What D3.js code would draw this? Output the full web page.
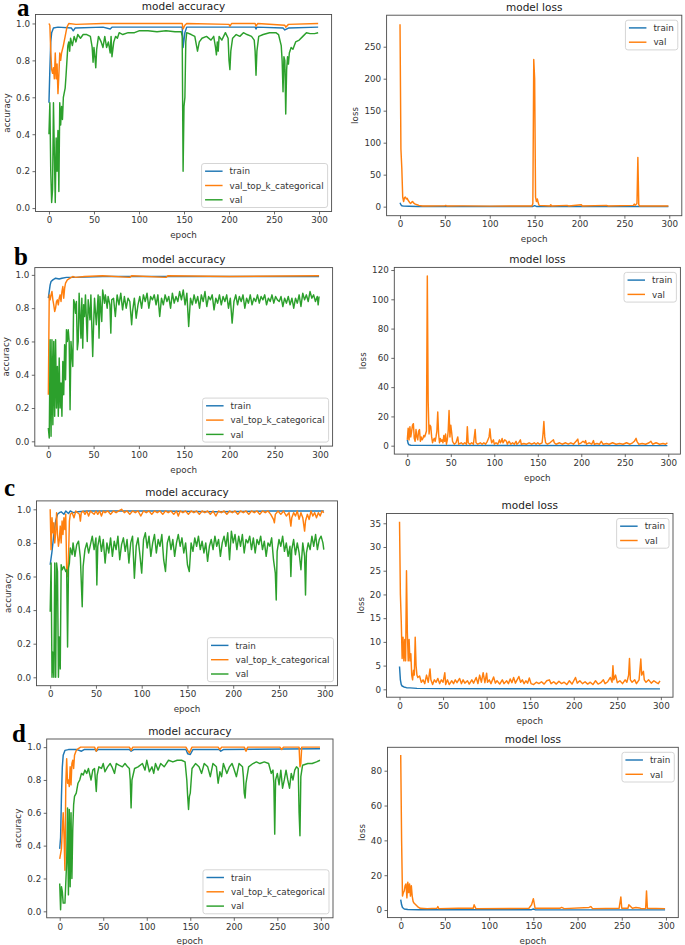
<!DOCTYPE html>
<html><head><meta charset="utf-8">
<script src="https://cdn.jsdelivr.net/npm/d3@7"></script>
<style>body{margin:0;background:#fff} svg{display:block}</style>
</head><body><svg id="chart" width="685" height="945"></svg>
<script>
// ---------- tick labels ----------
const epochTicks=[0,50,100,150,200,250,300];
const accTicks=[0.0,0.2,0.4,0.6,0.8,1.0];
const lossTicksA=[0,50,100,150,200,250];
const lossTicksB=[0,20,40,60,80,100,120];
const lossTicksC=[0,5,10,15,20,25,30,35];
const lossTicksD=[0,20,40,60,80];
const accLegend=["train","val_top_k_categorical","val"];
const lossLegend=["train","val"];

// ---------- panel a ----------
const aAccTrain=[[0,0.57],[1,0.75],[2,0.9],[3,0.95],[5,0.975],[10,0.98],[25,0.975],[27,0.96],[29,0.975],[60,0.98],[68,0.97],[70,0.98],[100,0.98],[148,0.98],[149,0.87],[151,0.95],[153,0.98],[200,0.98],[229,0.98],[230,0.97],[231,0.98],[260,0.975],[262,0.965],[266,0.975],[299,0.98]];
const aAccTopK=[[0,1.0],[1,0.99],[2,0.85],[3,0.75],[4,0.73],[5,0.76],[6,0.7],[7,0.84],[8,0.7],[9,0.78],[10,0.62],[11,0.72],[12,0.84],[13,0.8],[14,0.84],[16,0.88],[18,0.93],[20,0.98],[22,1.0],[30,0.995],[60,1.0],[100,1.0],[148,1.0],[149,0.97],[151,0.99],[153,1.0],[200,0.995],[201,0.985],[203,1.0],[229,1.0],[230,0.985],[232,1.0],[262,0.99],[263,0.98],[266,0.995],[299,1.0]];
const aAccVal=[[0,0.4],[1,0.57],[2,0.2],[3,0.03],[4,0.1],[5,0.57],[6,0.3],[7,0.03],[8,0.38],[9,0.2],[10,0.42],[11,0.09],[12,0.57],[13,0.45],[14,0.55],[15,0.48],[16,0.6],[18,0.65],[19,0.72],[21,0.88],[22,0.9],[23,0.85],[24,0.92],[26,0.88],[28,0.93],[30,0.9],[32,0.94],[35,0.92],[38,0.94],[42,0.94],[46,0.93],[48,0.87],[49,0.79],[50,0.87],[51,0.82],[52,0.76],[53,0.86],[55,0.93],[58,0.9],[60,0.87],[62,0.93],[64,0.87],[66,0.9],[68,0.84],[69,0.93],[70,0.82],[72,0.9],[74,0.93],[76,0.92],[78,0.95],[82,0.94],[88,0.95],[95,0.95],[100,0.96],[110,0.96],[120,0.955],[130,0.96],[140,0.955],[147,0.955],[148,0.93],[149,0.2],[150,0.55],[151,0.6],[152,0.9],[153,0.95],[158,0.94],[162,0.93],[165,0.85],[167,0.9],[170,0.92],[175,0.93],[180,0.91],[183,0.93],[185,0.87],[186,0.83],[187,0.9],[188,0.85],[189,0.93],[192,0.91],[196,0.95],[199,0.92],[200,0.8],[201,0.75],[202,0.85],[204,0.92],[208,0.94],[212,0.93],[216,0.95],[220,0.94],[225,0.93],[228,0.91],[229,0.85],[230,0.72],[231,0.85],[233,0.93],[238,0.94],[245,0.95],[252,0.95],[255,0.94],[258,0.88],[259,0.8],[260,0.63],[261,0.82],[262,0.8],[263,0.51],[264,0.75],[265,0.82],[266,0.78],[267,0.84],[269,0.87],[271,0.86],[274,0.9],[278,0.91],[282,0.93],[286,0.95],[290,0.945],[295,0.945],[299,0.95]];
const aLossTrain=[[0,6],[1,3],[2,1.5],[4,0.8],[10,0.5],[20,0.3],[148,0.3],[150,1.5],[152,0.3],[299,0.1]];
const aLossVal=[[0,285],[1,90],[2,60],[3,15],[4,8],[5,14],[6,15],[7,12],[8,13],[9,10],[10,8],[11,6],[12,5],[13,7],[14,8],[15,6],[17,4],[19,3],[21,2],[25,1],[30,1],[50,1.5],[51,2],[52,1],[70,1.2],[100,0.8],[147,1],[148,5],[149,230],[150,200],[151,15],[152,8],[153,12],[154,6],[155,2],[167,1],[168,3],[169,1],[186,2],[188,1],[202,3],[203,1],[230,2],[232,1],[260,2],[261,4],[262,2],[264,5],[265,77],[266,3],[267,1],[299,1]];

// ---------- panel b ----------
const bAccTrain=[[0,0.86],[1,0.9],[2,0.94],[3,0.96],[5,0.97],[8,0.98],[12,0.975],[15,0.98],[20,0.985],[30,0.985],[60,0.99],[299,0.99]];
const bAccTopK=[[0,0.28],[1,0.88],[2,0.85],[3,0.88],[4,0.9],[5,0.85],[6,0.82],[7,0.78],[8,0.8],[9,0.84],[10,0.85],[11,0.82],[12,0.86],[13,0.88],[14,0.84],[15,0.9],[16,0.93],[17,0.86],[18,0.92],[19,0.95],[21,0.97],[24,0.98],[27,0.99],[30,0.985],[40,0.99],[60,0.995],[90,0.985],[92,0.995],[130,0.985],[132,0.995],[200,0.99],[299,0.995]];
const bAccVal=[[0,0.08],[1,0.02],[2,0.61],[3,0.03],[4,0.61],[5,0.1],[6,0.6],[7,0.15],[8,0.61],[9,0.2],[10,0.45],[11,0.15],[12,0.5],[13,0.2],[14,0.35],[15,0.15],[16,0.48],[17,0.28],[18,0.58],[19,0.37],[20,0.67],[21,0.6],[22,0.67],[23,0.6],[24,0.19],[25,0.6],[26,0.52],[27,0.45],[28,0.85],[29,0.83],[30,0.77],[31,0.84],[32,0.55],[33,0.6],[34,0.89],[36,0.62],[37,0.86],[38,0.56],[39,0.82],[40,0.75],[41,0.88],[43,0.6],[44,0.85],[46,0.73],[47,0.88],[49,0.51],[50,0.7],[51,0.86],[53,0.7],[55,0.88],[56,0.62],[57,0.87],[59,0.72],[60,0.91],[62,0.83],[63,0.88],[65,0.8],[66,0.87],[68,0.82],[69,0.65],[70,0.85],[72,0.86],[74,0.75],[76,0.88],[78,0.82],[80,0.89],[82,0.79],[84,0.87],[86,0.8],[88,0.86],[90,0.84],[92,0.7],[93,0.78],[95,0.86],[97,0.74],[99,0.82],[101,0.87],[103,0.8],[105,0.88],[107,0.84],[109,0.89],[111,0.8],[113,0.87],[115,0.85],[117,0.88],[119,0.82],[121,0.88],[123,0.75],[125,0.86],[127,0.82],[129,0.88],[131,0.84],[133,0.87],[135,0.8],[137,0.89],[139,0.83],[141,0.87],[143,0.84],[145,0.9],[147,0.85],[149,0.91],[151,0.82],[153,0.89],[155,0.69],[157,0.86],[159,0.82],[161,0.88],[163,0.83],[165,0.87],[167,0.8],[169,0.88],[171,0.84],[173,0.9],[175,0.81],[177,0.87],[179,0.85],[181,0.88],[183,0.79],[185,0.86],[187,0.83],[189,0.88],[191,0.82],[193,0.87],[195,0.84],[197,0.88],[199,0.8],[201,0.86],[203,0.71],[205,0.84],[207,0.88],[209,0.82],[211,0.87],[213,0.84],[215,0.88],[217,0.8],[219,0.86],[221,0.83],[223,0.88],[225,0.82],[227,0.86],[229,0.84],[231,0.88],[233,0.83],[235,0.87],[237,0.85],[239,0.88],[241,0.82],[243,0.86],[245,0.84],[247,0.88],[249,0.83],[251,0.87],[253,0.85],[255,0.84],[257,0.87],[259,0.81],[261,0.86],[263,0.83],[265,0.87],[267,0.82],[269,0.86],[271,0.8],[273,0.86],[275,0.83],[277,0.88],[279,0.81],[281,0.89],[283,0.85],[285,0.88],[287,0.84],[289,0.9],[291,0.86],[293,0.88],[295,0.84],[297,0.87],[298,0.82],[299,0.87]];
const bLossTrain=[[0,4],[1,1.5],[2,0.6],[4,0.3],[10,0.2],[299,0.05]];
const bLossVal=[[0,4],[1,12],[2,4],[3,13],[4,6],[5,10],[6,14],[7,15],[8,5],[9,3],[10,11],[11,6],[12,4],[13,10],[14,11],[15,3],[16,6],[17,4],[18,5],[19,7],[20,6],[21,8],[22,10],[23,116],[24,30],[25,8],[26,14],[27,13],[28,6],[29,2],[30,4],[31,5],[32,3],[33,6],[34,10],[35,23],[36,8],[37,2],[38,5],[39,3],[40,4],[41,2],[42,7],[43,3],[44,8],[45,1],[46,4],[47,10],[48,24],[49,6],[50,14],[51,9],[52,3],[53,2],[54,1],[56,2],[58,6],[59,1],[62,2],[64,1],[66,2],[68,1],[69,13],[70,2],[72,1],[74,2],[76,1],[78,11],[79,2],[81,1],[84,2],[86,1],[88,2],[90,1],[92,3],[94,6],[95,11.5],[96,5],[97,2],[99,4],[100,1],[102,2],[104,1],[106,4],[107,2],[108,3],[109,5],[110,2],[112,4],[114,3],[115,1],[117,3],[119,1],[121,2],[123,1],[125,3],[126,1],[128,2],[130,4],[131,1],[134,1.5],[137,1],[140,2],[143,1],[146,2],[148,1],[150,2],[152,1],[155,2],[156,8],[157,16.5],[158,6],[159,2],[161,1],[164,2],[166,3],[168,4],[169,2],[171,1],[175,2],[178,1],[182,2],[185,1],[188,2],[191,1],[194,3],[196,4.5],[197,1],[200,2],[202,3],[204,2],[205,3.5],[206,1],[209,2],[212,1],[214,3.5],[215,1],[218,1.5],[221,1],[223,3],[225,1],[229,1.5],[232,1],[236,2],[240,1],[244,1.5],[248,1],[252,2],[256,1],[259,2],[261,3],[263,5],[264,3],[266,1],[270,1.5],[274,1],[278,2],[280,3],[282,1],[286,2],[290,1],[294,1.5],[297,1],[299,2]];

// ---------- panel c ----------
const cAccTrain=[[0,0.67],[2,0.75],[4,0.85],[6,0.93],[8,0.97],[10,0.98],[12,0.985],[15,0.97],[17,0.99],[20,0.975],[22,0.99],[25,0.98],[30,0.985],[40,0.99],[120,0.99],[180,0.985],[240,0.99],[299,0.99]];
const cAccTopK=[[0,1.0],[1,0.76],[2,0.95],[3,0.86],[4,0.92],[5,0.8],[6,0.86],[7,0.98],[8,0.85],[9,0.78],[10,0.82],[11,0.9],[12,0.8],[13,0.93],[14,0.85],[15,0.95],[16,0.88],[17,0.97],[18,0.65],[19,0.6],[20,0.7],[21,0.93],[22,0.97],[24,0.98],[26,0.95],[28,0.99],[30,0.98],[32,0.97],[33,0.93],[34,0.98],[36,0.99],[38,0.97],[40,0.99],[42,0.96],[44,0.99],[46,0.98],[48,0.97],[50,0.99],[52,0.97],[54,0.99],[56,0.96],[58,0.99],[60,0.98],[63,0.99],[66,0.97],[69,0.99],[72,0.98],[75,0.99],[78,1.0],[81,0.98],[84,0.99],[87,0.97],[90,0.99],[93,0.98],[96,0.99],[99,0.96],[102,0.99],[105,0.98],[108,0.99],[111,0.97],[114,0.99],[117,0.98],[120,0.99],[123,0.97],[126,0.99],[129,0.98],[132,0.99],[135,0.97],[138,0.99],[140,0.96],[142,0.99],[145,0.98],[148,0.99],[151,0.97],[154,0.99],[157,0.98],[160,0.99],[163,0.97],[166,0.99],[169,0.98],[172,0.99],[175,0.97],[178,0.99],[181,0.96],[184,0.99],[187,0.98],[190,0.99],[193,0.97],[196,0.99],[199,0.98],[202,0.99],[205,0.97],[208,0.99],[211,0.98],[214,0.99],[217,0.97],[220,0.99],[223,0.98],[226,0.99],[229,0.97],[232,0.99],[235,0.98],[238,0.99],[241,0.97],[244,0.94],[245,0.92],[246,0.97],[249,0.99],[252,0.97],[255,0.99],[258,0.96],[261,0.98],[263,0.9],[264,0.95],[266,0.98],[268,0.96],[270,0.99],[272,0.94],[274,0.98],[276,0.95],[278,0.87],[279,0.93],[281,0.97],[283,0.94],[285,0.99],[287,0.96],[289,0.98],[291,0.95],[293,0.98],[295,0.96],[297,0.99],[299,0.98]];
const cAccVal=[[0,0.39],[1,0.68],[2,0.0],[3,0.15],[4,0.0],[5,0.68],[6,0.0],[7,0.68],[8,0.63],[9,0.0],[10,0.24],[11,0.05],[12,0.67],[13,0.64],[15,0.66],[17,0.63],[18,0.64],[19,0.18],[20,0.65],[21,0.68],[22,0.77],[24,0.73],[25,0.8],[27,0.72],[29,0.79],[31,0.81],[33,0.71],[35,0.42],[36,0.66],[38,0.76],[40,0.8],[42,0.74],[44,0.79],[46,0.84],[48,0.76],[50,0.83],[51,0.55],[52,0.78],[54,0.84],[56,0.75],[58,0.82],[60,0.68],[62,0.8],[64,0.74],[66,0.83],[68,0.72],[70,0.81],[72,0.76],[74,0.84],[76,0.7],[78,0.79],[80,0.83],[82,0.75],[84,0.82],[86,0.68],[88,0.8],[90,0.84],[92,0.59],[94,0.78],[96,0.83],[98,0.73],[100,0.62],[102,0.82],[104,0.86],[106,0.77],[108,0.84],[110,0.72],[112,0.8],[114,0.85],[116,0.74],[118,0.82],[120,0.78],[122,0.85],[124,0.7],[126,0.63],[128,0.8],[130,0.84],[132,0.76],[134,0.82],[136,0.72],[138,0.8],[140,0.85],[142,0.78],[144,0.83],[146,0.74],[148,0.8],[150,0.67],[152,0.63],[154,0.8],[156,0.75],[158,0.83],[160,0.78],[162,0.84],[164,0.76],[166,0.81],[168,0.74],[170,0.8],[172,0.69],[174,0.78],[176,0.82],[178,0.76],[180,0.84],[182,0.78],[184,0.82],[186,0.72],[188,0.8],[190,0.84],[192,0.78],[194,0.86],[196,0.7],[198,0.87],[200,0.8],[202,0.85],[204,0.76],[206,0.84],[208,0.78],[210,0.85],[212,0.74],[214,0.82],[216,0.8],[218,0.84],[220,0.76],[222,0.83],[224,0.74],[226,0.82],[228,0.79],[230,0.84],[232,0.76],[234,0.81],[236,0.72],[238,0.8],[240,0.78],[242,0.83],[244,0.7],[246,0.62],[247,0.46],[248,0.75],[250,0.82],[252,0.78],[254,0.84],[256,0.75],[258,0.8],[260,0.72],[262,0.78],[263,0.6],[264,0.76],[266,0.82],[268,0.73],[270,0.8],[272,0.74],[274,0.64],[276,0.8],[278,0.72],[279,0.49],[280,0.74],[282,0.8],[284,0.76],[286,0.84],[288,0.78],[290,0.85],[292,0.76],[294,0.82],[296,0.84],[298,0.8],[299,0.76]];
const cLossTrain=[[0,4.8],[1,2],[2,1],[3,0.7],[5,0.5],[8,0.35],[12,0.3],[20,0.2],[50,0.15],[299,0.1]];
const cLossVal=[[0,35.3],[1,20],[2,14.3],[3,6.5],[4,11],[5,6],[6,10.5],[7,6],[8,25],[9,12],[10,6],[11,10.5],[12,6],[13,7.5],[14,3],[15,2],[16,4],[17,3],[18,11],[19,5],[20,3],[21,2.5],[23,2.8],[25,1.5],[27,2],[29,1.2],[31,3],[33,1.5],[35,4.3],[36,2],[38,1],[40,2],[42,1.5],[44,2.3],[46,1.2],[48,2],[50,1.5],[52,3.5],[53,1],[55,2],[57,1],[60,1.8],[62,1.2],[64,2],[66,1.4],[69,2.3],[71,1.2],[73,2],[75,1.3],[78,1.8],[80,1.1],[83,2],[85,1.3],[88,2.5],[90,1.2],[92,3],[94,1.5],[96,3.5],[98,1.4],[100,3.4],[101,1.5],[103,2],[105,1.2],[108,2.6],[110,1.3],[112,1.8],[115,1.1],[118,2],[120,1.2],[123,1.8],[125,1.2],[127,2.2],[129,1.4],[131,2.5],[133,1.3],[135,2],[137,2.7],[139,1.5],[141,2],[143,1.2],[145,1.8],[147,1.3],[149,2.4],[151,1.2],[154,1],[157,1.5],[160,1.2],[163,1.6],[166,1.1],[169,1.8],[172,2],[174,1.2],[177,1.6],[180,1.1],[183,1.7],[186,1.2],[189,1.5],[192,1],[195,1.8],[198,1.1],[202,2.5],[204,1.3],[207,1.8],[210,1.2],[213,1.6],[216,1.1],[219,1.5],[222,1],[225,1.8],[228,1.1],[231,1.4],[234,2],[236,1.2],[239,1.6],[242,2.5],[244,1.5],[245,5],[246,2],[248,3],[250,1.4],[253,1.8],[256,1.2],[259,2],[261,1.5],[263,3],[264,6.5],[265,2],[267,1.5],[270,2],[272,1.2],[275,2],[277,6.4],[278,3],[280,3.8],[281,2],[283,1.5],[286,2],[289,1.3],[292,1.8],[295,1.4],[297,1.2],[299,1.8]];

// ---------- panel d ----------
const dAccTrain=[[0,0.38],[1,0.45],[2,0.7],[3,0.88],[4,0.95],[6,0.98],[10,0.985],[20,0.985],[25,0.975],[28,0.985],[41,0.985],[42,0.975],[44,0.985],[80,0.985],[82,0.975],[85,0.985],[145,0.985],[147,0.96],[150,0.955],[153,0.985],[183,0.985],[185,0.975],[188,0.985],[299,0.99]];
const dAccTopK=[[0,0.32],[1,0.35],[2,0.38],[3,0.5],[4,0.6],[5,0.45],[6,0.25],[7,0.78],[8,0.93],[9,0.78],[10,0.8],[11,0.76],[12,0.88],[13,0.77],[14,0.9],[15,0.92],[16,0.87],[17,0.95],[19,0.98],[21,0.99],[24,1.0],[40,1.0],[42,0.975],[44,1.0],[80,1.0],[82,0.98],[84,1.0],[145,1.0],[147,0.98],[149,0.965],[152,1.0],[182,1.0],[184,0.985],[186,1.0],[212,1.0],[214,0.975],[216,1.0],[253,1.0],[255,0.985],[257,1.0],[275,1.0],[276,0.88],[277,0.9],[278,1.0],[299,1.0]];
const dAccVal=[[0,0.17],[1,0.01],[2,0.15],[3,0.12],[4,0.05],[6,0.05],[8,0.3],[9,0.63],[10,0.1],[11,0.62],[12,0.15],[13,0.6],[14,0.2],[15,0.5],[16,0.65],[17,0.7],[19,0.72],[21,0.78],[23,0.8],[25,0.84],[27,0.83],[29,0.86],[31,0.84],[33,0.87],[36,0.8],[38,0.86],[40,0.87],[42,0.73],[43,0.83],[45,0.88],[48,0.87],[50,0.9],[52,0.85],[55,0.88],[58,0.9],[60,0.88],[63,0.84],[65,0.9],[68,0.89],[72,0.88],[75,0.9],[78,0.88],[80,0.87],[81,0.8],[82,0.63],[83,0.8],[86,0.87],[90,0.88],[95,0.9],[98,0.86],[100,0.92],[103,0.85],[106,0.88],[108,0.84],[110,0.9],[113,0.86],[116,0.9],[120,0.88],[125,0.92],[130,0.91],[135,0.92],[140,0.92],[144,0.91],[146,0.8],[147,0.7],[148,0.62],[149,0.7],[150,0.72],[152,0.87],[156,0.9],[160,0.88],[163,0.84],[166,0.9],[170,0.88],[173,0.82],[176,0.9],[180,0.88],[182,0.78],[184,0.85],[186,0.82],[188,0.9],[192,0.84],[195,0.88],[198,0.9],[200,0.87],[203,0.82],[206,0.9],[210,0.88],[211,0.82],[212,0.72],[213,0.69],[214,0.78],[217,0.88],[222,0.9],[226,0.91],[230,0.9],[235,0.91],[240,0.9],[243,0.84],[245,0.86],[246,0.78],[247,0.47],[248,0.8],[250,0.84],[252,0.77],[254,0.86],[256,0.75],[258,0.8],[260,0.86],[262,0.8],[264,0.75],[266,0.84],[268,0.8],[270,0.86],[272,0.88],[274,0.87],[275,0.6],[276,0.46],[277,0.82],[279,0.89],[285,0.9],[290,0.9],[295,0.91],[299,0.92]];
const dLossTrain=[[0,6],[1,3],[2,1.5],[4,0.6],[8,0.3],[20,0.2],[148,0.2],[150,0.6],[152,0.2],[299,0.1]];
const dLossVal=[[0,89],[1,40],[2,8],[3,10],[4,11],[5,14],[6,15],[7,7],[8,16],[9,10],[10,15],[11,8],[12,14],[13,8],[14,5],[15,4],[17,3],[19,2],[22,1],[30,0.8],[41,1],[42,2],[43,0.8],[65,1],[82,1],[83,3],[85,0.8],[145,1],[148,3],[150,6.5],[152,1],[180,1],[182,1.5],[185,0.8],[213,1.5],[215,2],[217,0.8],[247,1],[249,7.5],[250,1],[257,1],[258,3],[260,2],[262,1],[266,1.5],[270,1.2],[272,0.8],[277,0.8],[278,11],[279,1],[299,0.8]];

// ---------- drawing ----------
const COLORS=["#1f77b4","#ff7f0e","#2ca02c"];
const FONT="DejaVu Sans";
const svg=d3.select("#chart");

const panels=[
 {box:[35.5,14.5,331.6,211.5],kind:"acc",series:[aAccTrain,aAccTopK,aAccVal],yTicks:accTicks,letter:["a",17,16]},
 {box:[386.6,15.2,681.8,215.7],kind:"loss",series:[aLossTrain,aLossVal],yTicks:lossTicksA},
 {box:[34.8,267.6,332.6,446.1],kind:"acc",series:[bAccTrain,bAccTopK,bAccVal],yTicks:accTicks,letter:["b",14,265]},
 {box:[394.3,267.4,680.4,454.1],kind:"loss",series:[bLossTrain,bLossVal],yTicks:lossTicksB},
 {box:[36.5,500.9,337.5,685.7],kind:"acc",series:[cAccTrain,cAccTopK,cAccVal],yTicks:accTicks,letter:["c",4,496]},
 {box:[386.5,513.5,673,697.2],kind:"loss",series:[cLossTrain,cLossVal],yTicks:lossTicksC},
 {box:[46.7,739,333,917.8],kind:"acc",series:[dAccTrain,dAccTopK,dAccVal],yTicks:accTicks,letter:["d",12,742]},
 {box:[387.5,747.3,678.3,917.6],kind:"loss",series:[dLossTrain,dLossVal],yTicks:lossTicksD}
];

panels.forEach((p,pi)=>{
  const [L,T,R,B]=p.box;
  const all=p.series.flat();
  const xe=d3.extent(all,d=>d[0]), ye=d3.extent(all,d=>d[1]);
  const xm=(xe[1]-xe[0])*0.05, ym=(ye[1]-ye[0])*0.05;
  const x=d3.scaleLinear().domain([xe[0]-xm,xe[1]+xm]).range([L,R]);
  const y=d3.scaleLinear().domain([ye[0]-ym,ye[1]+ym]).range([B,T]);
  const g=svg.append("g");
  const cid="clip"+pi;
  g.append("clipPath").attr("id",cid).append("rect").attr("x",L).attr("y",T).attr("width",R-L).attr("height",B-T);
  const line=d3.line().x(d=>x(d[0])).y(d=>y(d[1]));
  const lg=g.append("g").attr("clip-path",`url(#${cid})`);
  p.series.forEach((s,i)=>{
    lg.append("path").datum(s).attr("d",line).attr("fill","none")
      .attr("stroke",COLORS[i]).attr("stroke-width",1.45).attr("stroke-linejoin","round");
  });
  // axes
  const fmt=p.kind==="acc"?d3.format(".1f"):d3.format("d");
  const xa=g.append("g").attr("transform",`translate(0,${B})`)
    .call(d3.axisBottom(x).tickValues(epochTicks).tickSize(3).tickPadding(2.5));
  const ya=g.append("g").attr("transform",`translate(${L},0)`)
    .call(d3.axisLeft(y).tickValues(p.yTicks).tickFormat(fmt).tickSize(3).tickPadding(2.5));
  [xa,ya].forEach(a=>{
    a.select(".domain").remove();
    a.selectAll("line").attr("stroke","#444").attr("stroke-width",0.8);
    a.selectAll("text").attr("font-family",FONT).attr("font-size",8.75).attr("fill","#333");
  });
  g.append("rect").attr("x",L).attr("y",T).attr("width",R-L).attr("height",B-T)
    .attr("fill","none").attr("stroke","#4a4a4a").attr("stroke-width",0.9);
  // title and labels
  g.append("text").attr("x",(L+R)/2).attr("y",T-4.5).attr("text-anchor","middle")
    .attr("font-family",FONT).attr("font-size",10.5).attr("fill","#222")
    .text(p.kind==="acc"?"model accuracy":"model loss");
  g.append("text").attr("x",(L+R)/2).attr("y",B+26.5).attr("text-anchor","middle")
    .attr("font-family",FONT).attr("font-size",8.75).attr("fill","#333").text("epoch");
  let maxW=0; ya.selectAll("text").each(function(){maxW=Math.max(maxW,this.getComputedTextLength());});
  const ylx=L-3-2.5-maxW-6;
  g.append("text").attr("transform",`translate(${ylx},${(T+B)/2}) rotate(-90)`).attr("text-anchor","middle")
    .attr("font-family",FONT).attr("font-size",8.75).attr("fill","#333")
    .text(p.kind==="acc"?"accuracy":"loss");
  if(p.letter){
    g.append("text").attr("x",p.letter[1]).attr("y",p.letter[2])
      .attr("font-family","Liberation Serif").attr("font-weight","bold").attr("font-size",25).attr("fill","#000")
      .text(p.letter[0]);
  }
  // legend
  const names=p.kind==="acc"?accLegend:lossLegend;
  const leg=g.append("g");
  const tmp=leg.append("g");
  let tw=0;
  names.forEach(n=>{const t=tmp.append("text").attr("font-family",FONT).attr("font-size",8.75).text(n);tw=Math.max(tw,t.node().getComputedTextLength());});
  tmp.remove();
  const pitch=14.3, pad=7.7;
  const lw=3.5+17.5+7+tw+4, lh=2*pad+(names.length-1)*pitch;
  const lx=R-4-lw, ly=p.kind==="acc"?(B-4-lh):(T+5);
  leg.append("rect").attr("x",lx).attr("y",ly).attr("width",lw).attr("height",lh).attr("rx",2.5)
    .attr("fill","#fff").attr("fill-opacity",0.85).attr("stroke","#d0d0d0").attr("stroke-width",0.9);
  names.forEach((n,i)=>{
    const cy=ly+pad+i*pitch;
    leg.append("line").attr("x1",lx+3.5).attr("x2",lx+21).attr("y1",cy).attr("y2",cy)
      .attr("stroke",COLORS[i]).attr("stroke-width",1.45);
    leg.append("text").attr("x",lx+28).attr("y",cy+3.2).attr("font-family",FONT).attr("font-size",8.75)
      .attr("fill","#333").text(n);
  });
});
</script></body></html>
